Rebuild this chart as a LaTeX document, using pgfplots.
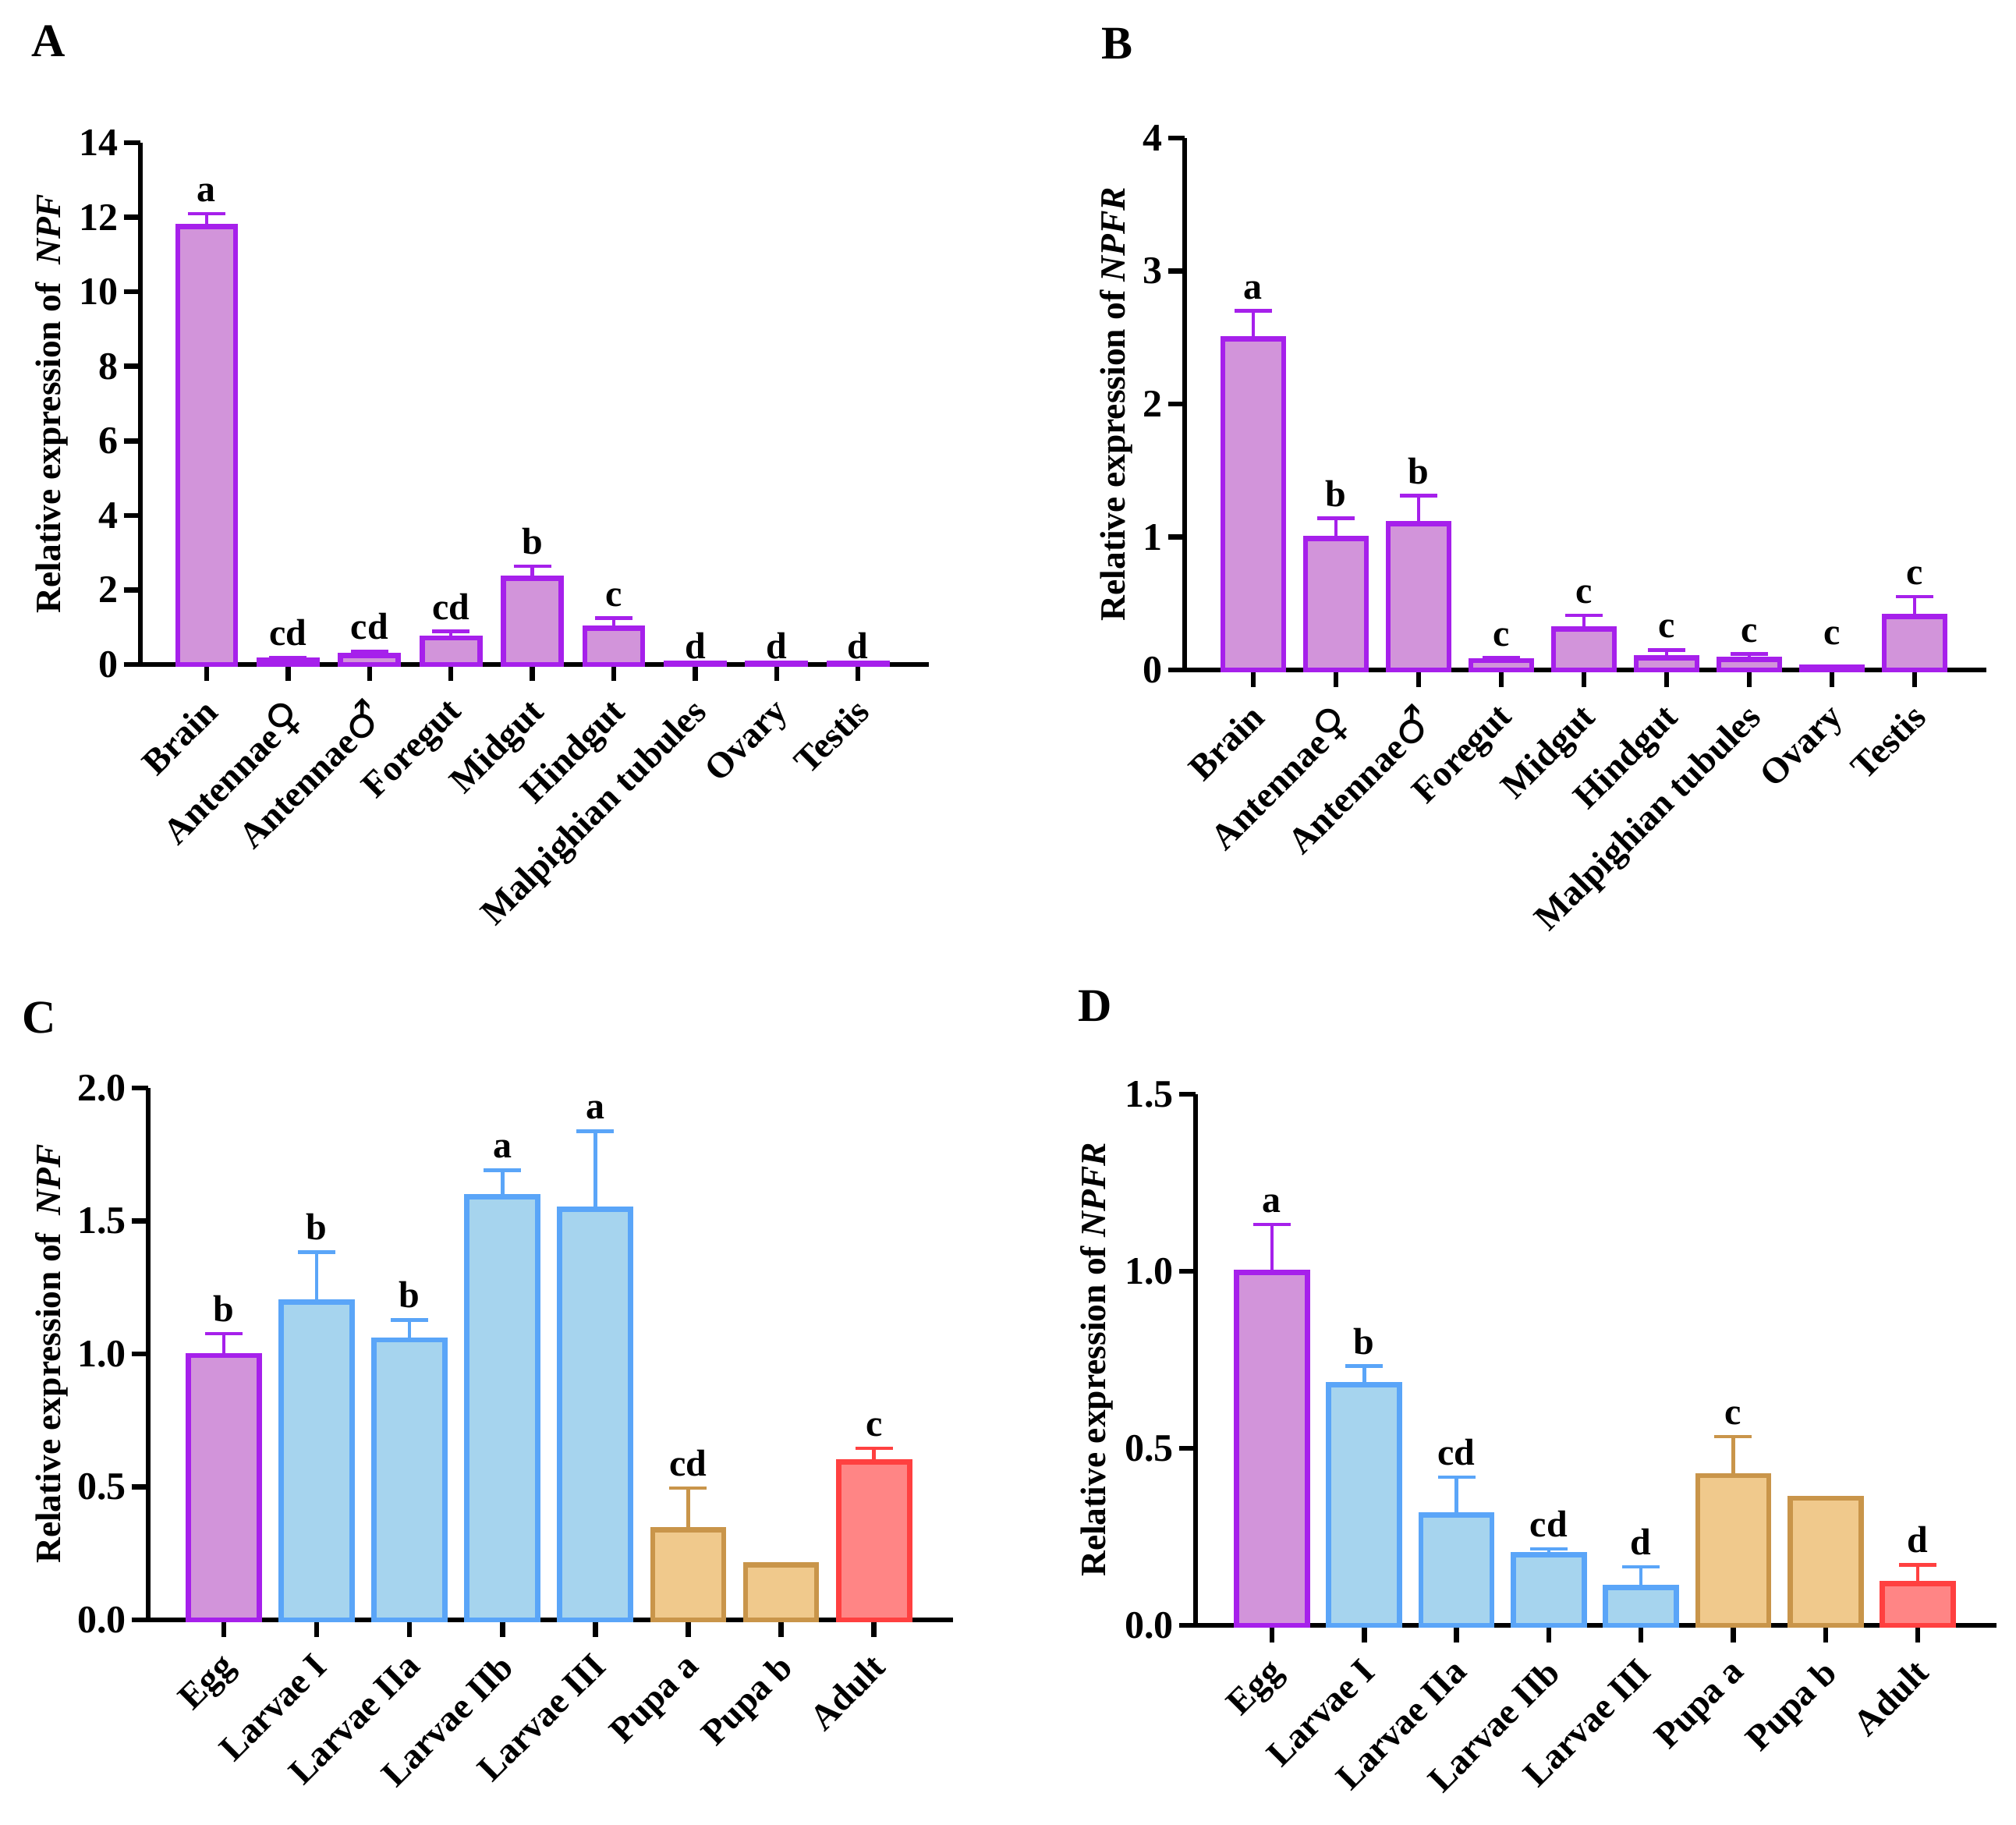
\documentclass[border=0pt]{standalone}
\usepackage{pgfplots}
\pgfplotsset{compat=1.18}
\usepackage{fontspec}
\setmainfont{Liberation Serif}
\newfontfamily\symf{DejaVu Sans}
\definecolor{purE}{RGB}{166,32,235}
\definecolor{purF}{RGB}{210,148,218}
\definecolor{bluE}{RGB}{90,165,248}
\definecolor{bluF}{RGB}{166,212,238}
\definecolor{tanE}{RGB}{201,149,74}
\definecolor{tanF}{RGB}{240,201,140}
\definecolor{redE}{RGB}{255,64,64}
\definecolor{redF}{RGB}{255,133,133}
\newcommand\fs{\bfseries\fontsize{10}{11}\selectfont}
\newcommand\fc{\bfseries\fontsize{9.3}{11}\selectfont}
\newcommand\fb{\bfseries\fontsize{9.6}{10}\selectfont}
\newcommand\fl{\bfseries\fontsize{9.1}{11}\selectfont}
\newcommand\fem{{\symf\bfseries\fontsize{11}{10}\selectfont ♀}}
\newcommand\mal{{\symf\bfseries\fontsize{11}{10}\selectfont ♂}}
\pgfplotsset{
  panel/.style={
    scale only axis,
    anchor=south west,
    axis x line*=bottom, axis y line*=left,
    axis line style={line width=1.3pt,-},
    every tick/.style={black,line width=1.3pt},
    major tick length=4.3pt,
    tick align=outside,
    ymin=0,
    clip=false,
    /pgf/number format/assume math mode=true,
    yticklabel style={font=\fs, inner sep=0pt, xshift=-1.2pt},
    xticklabel style={font=\fc, inner sep=0pt, xshift=-1.2pt, yshift=-3.6pt, rotate=45, anchor=north east},
  },
  ylab/.style={every axis y label/.style={at={(axis description cs:0,0.5)}, xshift=-#1, rotate=90, anchor=center, font=\fl}},
  bars/.style n args={3}{ybar, bar shift=0pt, bar width=#1, draw=#2, fill=#3, line width=1.35pt,
    error bars/.cd, y dir=plus, y explicit,
    error bar style={line width=0.9pt, #2},
    error mark options={line width=0.9pt, mark size=4.8pt, rotate=90, #2}},
  nbars/.style n args={3}{ybar, bar shift=0pt, bar width=#1, draw=#2, fill=#3, line width=1.35pt},
  labs/.style={draw=none, mark=none, nodes near coords, point meta=explicit symbolic,
    nodes near coords style={font=\fb, anchor=south, inner sep=0pt, yshift=#1, black}},
  labs/.default=2.8pt,
}
\begin{document}
\begin{tikzpicture}
\useasboundingbox (0,0) rectangle (517pt,-468pt);
\node[font=\bfseries\fontsize{12}{14}\selectfont] at (12.4pt,-10.6pt) {A};
\node[font=\bfseries\fontsize{12}{14}\selectfont] at (286.4pt,-11.2pt) {B};
\node[font=\bfseries\fontsize{12}{14}\selectfont] at (10pt,-261pt) {C};
\node[font=\bfseries\fontsize{12}{14}\selectfont] at (280.8pt,-258pt) {D};

% Panel A
\begin{axis}[panel, at={(36pt,-170.4pt)}, width=202.2pt, height=133.8pt,
  xmin=-0.814, xmax=8.870, ymax=14, ytick={0,2,...,14},
  xtick={0,...,8},
  xticklabels={Brain,Antennae\fem,Antennae\mal,Foregut,Midgut,Hindgut,Malpighian tubules,Ovary,Testis},
  ylabel={Relative expression of\ \ \textit{NPF}}, ylab=22.8pt]
\addplot[bars={14.8pt}{purE}{purF}] table[x=x,y=y,y error=e]{
x y e
0 11.75 0.35
1 0.11 0.07
2 0.24 0.11
3 0.71 0.18
4 2.32 0.32
5 0.97 0.27
};
\addplot[nbars={14.8pt}{purE}{purF}] table[x=x,y=y]{
x y
6 0.04
7 0.04
8 0.04
};
\addplot[labs] table[x=x,y=t,meta=l]{
x t l
0 12.10 a
1 0.18 cd
2 0.35 cd
3 0.89 cd
4 2.64 b
5 1.24 c
};
\addplot[labs=0.9pt] table[x=x,y=t,meta=l]{
x t l
6 0.04 d
7 0.04 d
8 0.04 d
};
\end{axis}

% Panel B
\begin{axis}[panel, at={(303.8pt,-171.8pt)}, width=205.6pt, height=136.4pt,
  xmin=-0.830, xmax=8.868, ymax=4, ytick={0,1,...,4},
  xtick={0,...,8},
  xticklabels={Brain,Antennae\fem,Antennae\mal,Foregut,Midgut,Hindgut,Malpighian tubules,Ovary,Testis},
  ylabel={Relative expression of \textit{NPFR}}, ylab=17.6pt]
\addplot[bars={15.6pt}{purE}{purF}] table[x=x,y=y,y error=e]{
x y e
0 2.49 0.21
1 0.99 0.15
2 1.10 0.21
3 0.07 0.02
4 0.31 0.10
5 0.09 0.06
6 0.08 0.04
8 0.40 0.15
};
\addplot[nbars={15.6pt}{purE}{purF}] table[x=x,y=y]{
x y
7 0.02
};
\addplot[labs] table[x=x,y=t,meta=l]{
x t l
0 2.70 a
1 1.14 b
2 1.31 b
3 0.09 c
4 0.41 c
5 0.15 c
6 0.12 c
7 0.10 c
8 0.55 c
};
\end{axis}

% Panel C
\begin{axis}[panel, at={(38pt,-415.4pt)}, width=206.4pt, height=136.4pt,
  xmin=-0.814, xmax=7.851, ymax=2, ytick={0,0.5,...,2},
  yticklabel style={/pgf/number format/.cd, fixed, fixed zerofill, precision=1},
  xtick={0,...,7},
  xticklabels={Egg,Larvae I,Larvae IIa,Larvae IIb,Larvae III,Pupa a,Pupa b,Adult},
  ylabel={Relative expression of\ \ \textit{NPF}}, ylab=24.8pt]
\addplot[bars={18.2pt}{purE}{purF}] table[x=x,y=y,y error=e]{
x y e
0 0.994 0.083
};
\addplot[bars={18.2pt}{bluE}{bluF}] table[x=x,y=y,y error=e]{
x y e
1 1.196 0.187
2 1.053 0.075
3 1.591 0.100
4 1.545 0.293
};
\addplot[bars={18.2pt}{tanE}{tanF}] table[x=x,y=y,y error=e]{
x y e
5 0.338 0.158
};
\addplot[nbars={18.2pt}{tanE}{tanF}] table[x=x,y=y]{
x y
6 0.206
};
\addplot[bars={18.2pt}{redE}{redF}] table[x=x,y=y,y error=e]{
x y e
7 0.594 0.051
};
\addplot[labs] table[x=x,y=t,meta=l]{
x t l
0 1.077 b
1 1.383 b
2 1.128 b
3 1.691 a
4 1.838 a
5 0.496 cd
7 0.645 c
};
\end{axis}

% Panel D
\begin{axis}[panel, at={(306.6pt,-416.8pt)}, width=205.4pt, height=136.2pt,
  xmin=-0.828, xmax=7.853, ymax=1.5, ytick={0,0.5,...,1.5},
  yticklabel style={/pgf/number format/.cd, fixed, fixed zerofill, precision=1},
  xtick={0,...,7},
  xticklabels={Egg,Larvae I,Larvae IIa,Larvae IIb,Larvae III,Pupa a,Pupa b,Adult},
  ylabel={Relative expression of \textit{NPFR}}, ylab=25.4pt]
\addplot[bars={18.2pt}{purE}{purF}] table[x=x,y=y,y error=e]{
x y e
0 0.997 0.135
};
\addplot[bars={18.2pt}{bluE}{bluF}] table[x=x,y=y,y error=e]{
x y e
1 0.680 0.052
2 0.312 0.107
3 0.200 0.016
4 0.107 0.058
};
\addplot[bars={18.2pt}{tanE}{tanF}] table[x=x,y=y,y error=e]{
x y e
5 0.423 0.110
};
\addplot[nbars={18.2pt}{tanE}{tanF}] table[x=x,y=y]{
x y
6 0.359
};
\addplot[bars={18.2pt}{redE}{redF}] table[x=x,y=y,y error=e]{
x y e
7 0.118 0.053
};
\addplot[labs] table[x=x,y=t,meta=l]{
x t l
0 1.132 a
1 0.732 b
2 0.419 cd
3 0.216 cd
4 0.165 d
5 0.533 c
7 0.171 d
};
\end{axis}
\end{tikzpicture}
\end{document}
